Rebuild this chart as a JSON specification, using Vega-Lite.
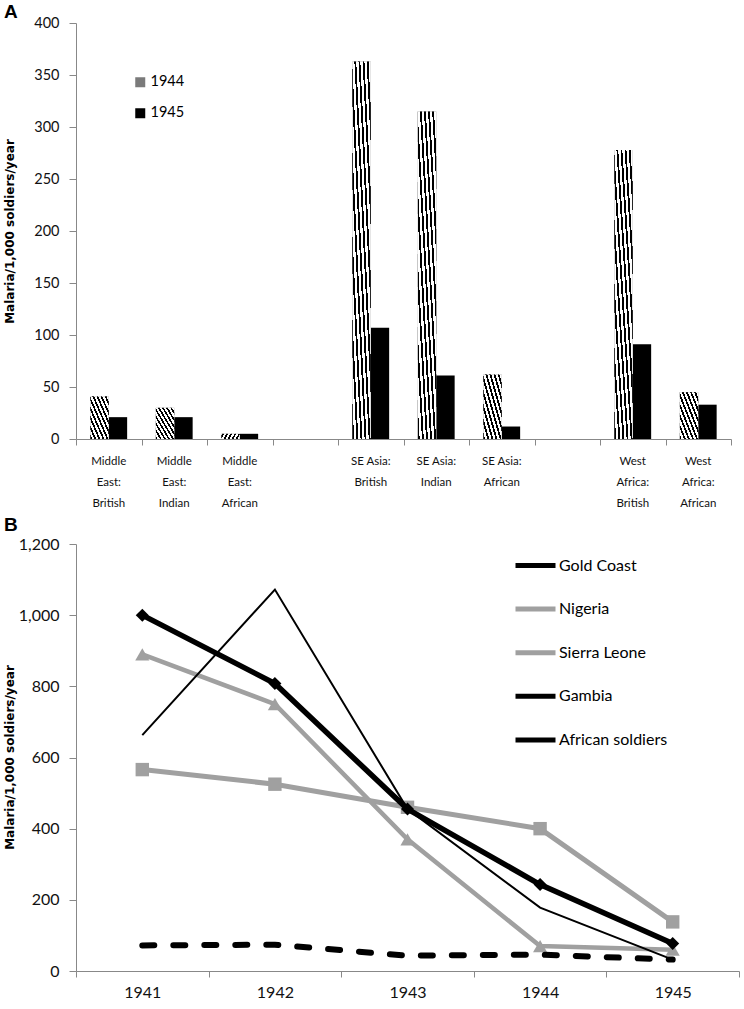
{
  "$schema": "https://vega.github.io/schema/vega-lite/v6.json",
  "padding": {"left": 3, "top": 3, "right": 2, "bottom": 2},
  "background": "white",
  "config": {
    "view": {"stroke": null},
    "axis": {"labelFont": "Lato", "labelColor": "#111111", "domainColor": "#888888", "tickColor": "#888888", "grid": false}
  },
  "datasets": {
    "bars": [
      {"cat": "ME British", "year": "1944", "value": 41},
      {"cat": "ME British", "year": "1945", "value": 21},
      {"cat": "ME Indian", "year": "1944", "value": 30},
      {"cat": "ME Indian", "year": "1945", "value": 21},
      {"cat": "ME African", "year": "1944", "value": 5},
      {"cat": "ME African", "year": "1945", "value": 5},
      {"cat": "SE British", "year": "1944", "value": 363},
      {"cat": "SE British", "year": "1945", "value": 107},
      {"cat": "SE Indian", "year": "1944", "value": 315},
      {"cat": "SE Indian", "year": "1945", "value": 61},
      {"cat": "SE African", "year": "1944", "value": 62},
      {"cat": "SE African", "year": "1945", "value": 12},
      {"cat": "WA British", "year": "1944", "value": 278},
      {"cat": "WA British", "year": "1945", "value": 91},
      {"cat": "WA African", "year": "1944", "value": 45},
      {"cat": "WA African", "year": "1945", "value": 33}
    ],
    "catlabels": [
      {"cat": "ME British", "l1": "Middle", "l2": "East:", "l3": "British"},
      {"cat": "ME Indian", "l1": "Middle", "l2": "East:", "l3": "Indian"},
      {"cat": "ME African", "l1": "Middle", "l2": "East:", "l3": "African"},
      {"cat": "SE British", "l1": "SE Asia:", "l2": "British", "l3": ""},
      {"cat": "SE Indian", "l1": "SE Asia:", "l2": "Indian", "l3": ""},
      {"cat": "SE African", "l1": "SE Asia:", "l2": "African", "l3": ""},
      {"cat": "WA British", "l1": "West", "l2": "Africa:", "l3": "British"},
      {"cat": "WA African", "l1": "West", "l2": "Africa:", "l3": "African"}
    ],
    "lines": [
      {"series": "Gold Coast", "year": "1941", "value": 1000},
      {"series": "Gold Coast", "year": "1942", "value": 808},
      {"series": "Gold Coast", "year": "1943", "value": 455},
      {"series": "Gold Coast", "year": "1944", "value": 243},
      {"series": "Gold Coast", "year": "1945", "value": 77},
      {"series": "Nigeria", "year": "1941", "value": 566},
      {"series": "Nigeria", "year": "1942", "value": 525},
      {"series": "Nigeria", "year": "1943", "value": 460},
      {"series": "Nigeria", "year": "1944", "value": 400},
      {"series": "Nigeria", "year": "1945", "value": 138},
      {"series": "Sierra Leone", "year": "1941", "value": 890},
      {"series": "Sierra Leone", "year": "1942", "value": 750},
      {"series": "Sierra Leone", "year": "1943", "value": 370},
      {"series": "Sierra Leone", "year": "1944", "value": 70},
      {"series": "Sierra Leone", "year": "1945", "value": 60},
      {"series": "Gambia", "year": "1941", "value": 663},
      {"series": "Gambia", "year": "1942", "value": 1072},
      {"series": "Gambia", "year": "1943", "value": 455},
      {"series": "Gambia", "year": "1944", "value": 178},
      {"series": "Gambia", "year": "1945", "value": 32},
      {"series": "African soldiers", "year": "1941", "value": 72},
      {"series": "African soldiers", "year": "1942", "value": 74},
      {"series": "African soldiers", "year": "1943", "value": 43},
      {"series": "African soldiers", "year": "1944", "value": 46},
      {"series": "African soldiers", "year": "1945", "value": 32}
    ]
  },
  "spacing": 6,
  "resolve": {"scale": {"color": "independent"}},
  "vconcat": [
    {
      "width": 655,
      "height": 416,
      "title": {"text": "A", "anchor": "start", "frame": "group", "dx": -72, "offset": -7, "fontSize": 19, "font": "Liberation Sans", "fontWeight": "bold", "color": "black"},
      "data": {"name": "bars"},
      "encoding": {
        "x": {
          "field": "cat", "type": "nominal", "sort": null,
          "scale": {"domain": ["ME British", "ME Indian", "ME African", "gap1", "SE British", "SE Indian", "SE African", "gap2", "WA British", "WA African"], "paddingInner": 0, "paddingOuter": 0},
          "axis": {"title": null, "labels": false, "tickBand": "extent", "tickSize": 6}
        }
      },
      "layer": [
        {
          "mark": {"type": "bar"},
          "encoding": {
            "xOffset": {"field": "year", "type": "nominal", "scale": {"domain": ["1944", "1945"], "paddingInner": 0, "paddingOuter": 0.78}},
            "y": {
              "field": "value", "type": "quantitative",
              "scale": {"domain": [0, 400]},
              "axis": {"title": "Malaria/1,000 soldiers/year", "titleFont": "DejaVu Sans", "titleFontSize": 12, "titleFontWeight": "bold", "titleColor": "black", "titleX": -60, "titleY": 208, "values": [0, 50, 100, 150, 200, 250, 300, 350, 400], "tickSize": 7, "labelFontSize": 14.5, "labelPadding": 10}
            },
            "color": {
              "field": "year", "type": "nominal",
              "scale": {"domain": ["1944", "1945"], "range": ["#7a7a7a", "black"]},
              "legend": {
                "title": null, "orient": "none", "legendX": 57, "legendY": 52,
                "symbolType": "square", "symbolSize": 100, "symbolStrokeWidth": 0,
                "labelFont": "Lato", "labelFontSize": 14.5, "labelColor": "black",
                "rowPadding": 16, "labelOffset": 3
              }
            }
          }
        },
        {
          "transform": [{"filter": "datum.year == '1944'"}],
          "mark": {
            "type": "bar",
            "fill": {
              "gradient": "linear", "x1": 0, "y1": 1, "x2": 1, "y2": 0,
              "stops": [
                {"offset": 0, "color": "black"}, {"offset": 0.05, "color": "black"}, {"offset": 0.05, "color": "white"}, {"offset": 0.1111, "color": "white"},
                {"offset": 0.1111, "color": "black"}, {"offset": 0.1611, "color": "black"}, {"offset": 0.1611, "color": "white"}, {"offset": 0.2222, "color": "white"},
                {"offset": 0.2222, "color": "black"}, {"offset": 0.2722, "color": "black"}, {"offset": 0.2722, "color": "white"}, {"offset": 0.3333, "color": "white"},
                {"offset": 0.3333, "color": "black"}, {"offset": 0.3833, "color": "black"}, {"offset": 0.3833, "color": "white"}, {"offset": 0.4444, "color": "white"},
                {"offset": 0.4444, "color": "black"}, {"offset": 0.4944, "color": "black"}, {"offset": 0.4944, "color": "white"}, {"offset": 0.5556, "color": "white"},
                {"offset": 0.5556, "color": "black"}, {"offset": 0.6056, "color": "black"}, {"offset": 0.6056, "color": "white"}, {"offset": 0.6667, "color": "white"},
                {"offset": 0.6667, "color": "black"}, {"offset": 0.7167, "color": "black"}, {"offset": 0.7167, "color": "white"}, {"offset": 0.7778, "color": "white"},
                {"offset": 0.7778, "color": "black"}, {"offset": 0.8278, "color": "black"}, {"offset": 0.8278, "color": "white"}, {"offset": 0.8889, "color": "white"},
                {"offset": 0.8889, "color": "black"}, {"offset": 0.9389, "color": "black"}, {"offset": 0.9389, "color": "white"}, {"offset": 1, "color": "white"}
              ]
            }
          },
          "encoding": {
            "xOffset": {"field": "year", "type": "nominal", "scale": {"domain": ["1944", "1945"], "paddingInner": 0, "paddingOuter": 0.78}},
            "y": {"field": "value", "type": "quantitative"}
          }
        },
        {
          "data": {"name": "catlabels"},
          "mark": {"type": "text", "dy": 23, "fontSize": 11.5, "font": "Lato", "baseline": "middle", "align": "center", "color": "#111111"},
          "encoding": {"y": {"datum": 0, "type": "quantitative"}, "text": {"field": "l1", "type": "nominal"}}
        },
        {
          "data": {"name": "catlabels"},
          "mark": {"type": "text", "dy": 44, "fontSize": 11.5, "font": "Lato", "baseline": "middle", "align": "center", "color": "#111111"},
          "encoding": {"y": {"datum": 0, "type": "quantitative"}, "text": {"field": "l2", "type": "nominal"}}
        },
        {
          "data": {"name": "catlabels"},
          "mark": {"type": "text", "dy": 65, "fontSize": 11.5, "font": "Lato", "baseline": "middle", "align": "center", "color": "#111111"},
          "encoding": {"y": {"datum": 0, "type": "quantitative"}, "text": {"field": "l3", "type": "nominal"}}
        }
      ]
    },
    {
      "width": 663,
      "height": 427,
      "title": {"text": "B", "anchor": "start", "frame": "group", "dx": -72, "offset": 1, "fontSize": 19, "font": "Liberation Sans", "fontWeight": "bold", "color": "black"},
      "data": {"name": "lines"},
      "encoding": {
        "x": {
          "field": "year", "type": "nominal",
          "scale": {"type": "band", "paddingInner": 0, "paddingOuter": 0},
          "axis": {"title": null, "labelAngle": 0, "tickBand": "extent", "tickSize": 6, "labelFontSize": 16, "labelPadding": 7}
        },
        "y": {
          "field": "value", "type": "quantitative",
          "scale": {"domain": [0, 1200]},
          "axis": {"title": "Malaria/1,000 soldiers/year", "titleFont": "DejaVu Sans", "titleFontSize": 12, "titleFontWeight": "bold", "titleColor": "black", "titleX": -60, "titleY": 213, "values": [0, 200, 400, 600, 800, 1000, 1200], "format": ",d", "tickSize": 7, "labelFontSize": 16, "labelPadding": 10}
        },
        "color": {
          "field": "series", "type": "nominal",
          "scale": {"domain": ["Gold Coast", "Nigeria", "Sierra Leone", "Gambia", "African soldiers"], "range": ["black", "#a0a0a0", "#a0a0a0", "black", "black"]},
          "legend": {
            "title": null, "orient": "none", "legendX": 437, "legendY": -1,
            "symbolType": "stroke", "symbolSize": 1600, "symbolStrokeWidth": 5,
            "labelFont": "Lato", "labelFontSize": 16, "labelColor": "black",
            "rowPadding": 10.6, "labelOffset": 1
          }
        }
      },
      "layer": [
        {"transform": [{"filter": "datum.series == 'Nigeria'"}], "mark": {"type": "line", "strokeWidth": 5}, "encoding": {}},
        {"transform": [{"filter": "datum.series == 'Nigeria'"}], "mark": {"type": "point", "shape": "square", "filled": true, "opacity": 1, "size": 180}},
        {"transform": [{"filter": "datum.series == 'Sierra Leone'"}], "mark": {"type": "line", "strokeWidth": 4.5}, "encoding": {}},
        {"transform": [{"filter": "datum.series == 'Sierra Leone'"}], "mark": {"type": "point", "shape": "triangle-up", "filled": true, "opacity": 1, "size": 200}},
        {"transform": [{"filter": "datum.series == 'Gold Coast'"}], "mark": {"type": "line", "strokeWidth": 5.5}, "encoding": {}},
        {"transform": [{"filter": "datum.series == 'Gold Coast'"}], "mark": {"type": "point", "shape": "diamond", "filled": true, "opacity": 1, "size": 170}},
        {"transform": [{"filter": "datum.series == 'Gambia'"}], "mark": {"type": "line", "strokeWidth": 2}, "encoding": {}},
        {"transform": [{"filter": "datum.series == 'African soldiers'"}], "mark": {"type": "line", "strokeWidth": 6, "strokeDash": [12, 19], "strokeCap": "round"}, "encoding": {}}
      ]
    }
  ]
}
